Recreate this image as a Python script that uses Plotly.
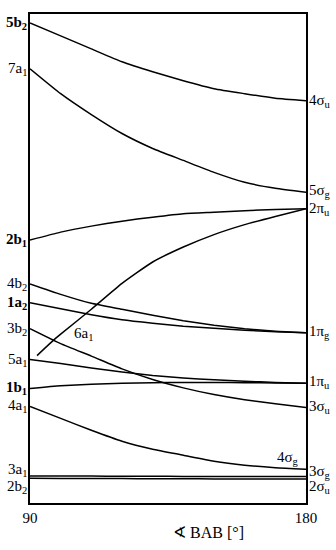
import plotly.graph_objects as go

# Walsh diagram: orbital energies (arbitrary units) vs B-A-B angle
angles = [90, 100, 110, 120, 130, 140, 150, 160, 170, 180]

e_5b2 = [48.2, 46.9, 45.6, 44.3, 43.3, 42.4, 41.6, 41.1, 40.65, 40.4]
e_7a1 = [43.6, 41.1, 39.0, 37.1, 35.6, 34.4, 33.2, 32.2, 31.6, 31.2]
e_2b1 = [26.4, 27.2, 27.8, 28.3, 28.7, 29.05, 29.2, 29.35, 29.47, 29.55]
e_4b2 = [22.0, 20.95, 20.05, 19.45, 18.85, 18.3, 17.85, 17.5, 17.25, 17.1]
e_1a2 = [20.1, 19.5, 18.9, 18.4, 18.05, 17.75, 17.55, 17.35, 17.2, 17.1]
e_3b2 = [17.5, 16.0, 14.75, 13.47, 12.4, 11.56, 10.89, 10.37, 9.96, 9.6]
e_5a1 = [14.4, 14.0, 13.55, 13.15, 12.8, 12.55, 12.37, 12.22, 12.11, 12.03]
e_1b1 = [11.5, 11.77, 11.93, 12.03, 12.08, 12.1, 12.1, 12.08, 12.06, 12.03]
e_4a1 = [9.7, 8.5, 7.3, 6.2, 5.4, 4.8, 4.2, 3.8, 3.55, 3.4]
e_3a1 = [2.72, 2.71, 2.7, 2.69, 2.68, 2.67, 2.66, 2.66, 2.65, 2.65]
e_2b2 = [2.48, 2.47, 2.46, 2.45, 2.44, 2.43, 2.42, 2.41, 2.41, 2.4]

angles_6a1 = [92.3, 97.5, 100, 110, 120, 130, 140, 150, 160, 170, 180]
e_6a1 = [14.8, 16.3, 16.95, 19.45, 22.05, 24.2, 25.7, 26.95, 27.95, 28.77, 29.55]

series = [e_5b2, e_7a1, e_2b1, e_4b2, e_1a2, e_3b2, e_5a1, e_1b1, e_4a1, e_3a1, e_2b2]

left_labels = ["5b<sub>2</sub>", "7a<sub>1</sub>", "2b<sub>1</sub>", "4b<sub>2</sub>", "1a<sub>2</sub>",
               "3b<sub>2</sub>", "5a<sub>1</sub>", "1b<sub>1</sub>", "4a<sub>1</sub>",
               "3a<sub>1</sub>", "2b<sub>2</sub>"]
left_label_y = [48.2, 43.6, 26.4, 22.0, 20.1, 17.5, 14.4, 11.5, 9.7, 3.3, 1.6]
left_bold = [True, False, True, False, True, False, False, True, False, False, False]

right_labels = ["4σ<sub>u</sub>", "5σ<sub>g</sub>", "2π<sub>u</sub>", "1π<sub>g</sub>",
                "1π<sub>u</sub>", "3σ<sub>u</sub>", "3σ<sub>g</sub>", "2σ<sub>u</sub>"]
right_label_y = [40.4, 31.3, 29.5, 17.2, 12.1, 9.6, 3.1, 1.6]

fig = go.Figure()
line_style = dict(color="black", width=1.5, shape="spline", smoothing=0.5)
for s in series:
    fig.add_trace(go.Scatter(x=angles, y=s, mode="lines", line=line_style,
                             hoverinfo="skip", showlegend=False))
fig.add_trace(go.Scatter(x=angles_6a1, y=e_6a1, mode="lines", line=line_style,
                         hoverinfo="skip", showlegend=False))

font = "Liberation Serif"
fs = 15
ann = []
for t, y, b in zip(left_labels, left_label_y, left_bold):
    ann.append(dict(x=90, y=y, xref="x", yref="y", text=("<b>%s</b>" % t) if b else t,
                    showarrow=False, xanchor="right", yanchor="middle", xshift=-1,
                    font=dict(family=font, size=fs, color="black")))
for t, y in zip(right_labels, right_label_y):
    ann.append(dict(x=180, y=y, xref="x", yref="y", text=t,
                    showarrow=False, xanchor="left", yanchor="middle", xshift=1,
                    font=dict(family=font, size=fs, color="black")))
ann.append(dict(x=178.5, y=4.5, xref="x", yref="y", text="4σ<sub>g</sub>",
                showarrow=False, xanchor="right", yanchor="middle",
                font=dict(family=font, size=fs, color="black")))
ann.append(dict(x=107.5, y=17.0, xref="x", yref="y", text="6a<sub>1</sub>",
                showarrow=False, xanchor="center", yanchor="middle",
                font=dict(family=font, size=fs, color="black")))
ann.append(dict(x=0.5, y=-0.06, xref="paper", yref="paper", text="∢ BAB [°]",
                showarrow=False, xanchor="center", yanchor="middle", xshift=40,
                font=dict(family=font, size=16, color="black")))

fig.update_layout(
    width=336, height=550,
    margin=dict(l=30, r=30, t=12, b=47),
    paper_bgcolor="white", plot_bgcolor="white",
    annotations=ann,
    xaxis=dict(range=[90, 180], tickvals=[90, 180], ticktext=["90", "180"],
               showgrid=False, zeroline=False, showline=True, mirror=True,
               linecolor="black", linewidth=2, ticks="",
               tickfont=dict(family=font, size=fs, color="black")),
    yaxis=dict(range=[0, 49.1], showticklabels=False, showgrid=False, zeroline=False,
               showline=True, mirror=True, linecolor="black", linewidth=2, ticks=""),
)

fig.write_html("out.html")
